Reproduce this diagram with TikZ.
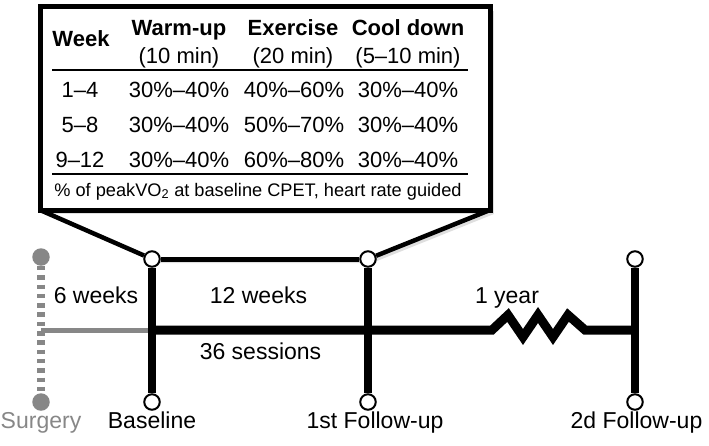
\documentclass[tikz,border=0pt]{standalone}
\usepackage{fontspec}
\setmainfont{Liberation Sans}
\usetikzlibrary{positioning}
\usetikzlibrary{calc}
\usetikzlibrary{shadows}
\definecolor{grey}{RGB}{135,135,135}
\tikzset{
    milestone/.style={circle, draw=black, fill=white, line width=2pt, inner sep=0pt, minimum size=15.5pt},
    surgdot/.style={circle, fill=grey, inner sep=0pt, minimum size=17.5pt},
    lbl/.style={font=\fontsize{23}{26}\selectfont, inner sep=0pt, text height=16.5pt, text depth=5pt},
    cell/.style={font=\fontsize{22}{25}\selectfont, inner sep=0pt, anchor=base},
    hcell/.style={font=\fontsize{22}{25}\selectfont\bfseries, inner sep=0pt, anchor=base},
    shade/.style={drop shadow={shadow xshift=4pt, shadow yshift=-4pt, opacity=0.25}},
}
\begin{document}
\begin{tikzpicture}[x=1pt, y=-1pt]
    \useasboundingbox (0,0) rectangle (709,445);

    \fill[white, shade] (40,210) -- (152,259) -- (368,259) -- (490,210) -- cycle;
    \node[draw, line width=5pt, fill=white, outer sep=0pt, minimum width=450pt, minimum height=203.5pt, shade] (box) at (265,108.25) {};

    \node[milestone] (bt) at (152,259) {};
    \node[milestone] (bb) at (152,402) {};
    \node[milestone] (f1t) at (368,259) {};
    \node[milestone] (f1b) at (368,402) {};
    \node[milestone] (f2t) at (635,259) {};
    \node[milestone] (f2b) at (635,402) {};
    \node[surgdot] (st) at (41,257) {};
    \node[surgdot] (sb) at (41,402) {};
    \coordinate (sm) at (41,330);
    \coordinate (bm) at (152,330);
    \coordinate (f1m) at (368,330);
    \coordinate (f2m) at (635,330);

    \draw[line width=4.5pt] (box.south west) -- (bt);
    \draw[line width=4.5pt] (box.south east) -- (f1t);

    \draw[line width=1.5pt] (52,70) -- (468,70);
    \draw[line width=1.5pt] (52,174) -- (468,174);
    \node[hcell] (hweek) at (81,46) {Week};
    \node[hcell] (hwarm) at (179,35) {Warm-up};
    \node[cell] (twarm) at (179,63) {(10 min)};
    \node[hcell] (hexer) at (293,35) {Exercise};
    \node[cell] (texer) at (293,63) {(20 min)};
    \node[hcell] (hcool) at (408,35) {Cool down};
    \node[cell] (tcool) at (408,63) {(5--10 min)};
    \foreach \wk/\ex [count=\i] in {1--4/40\%--60\%, 5--8/50\%--70\%, 9--12/60\%--80\%} {
        \node[cell] (wk\i) at (80,62+35*\i) {\wk};
        \node[cell] (wu\i) at (179,62+35*\i) {30\%--40\%};
        \node[cell] (ex\i) at (294,62+35*\i) {\ex};
        \node[cell] (cd\i) at (408,62+35*\i) {30\%--40\%};
    }
    \node[cell, font=\fontsize{18.2}{22}\selectfont] (note) at (258,196) {\% of peakVO\textsubscript{2} at baseline CPET, heart rate guided};

    \draw[grey, line width=8pt, dash pattern=on 4.5pt off 4.8pt] (st) -- (sb);
    \draw[grey, line width=5pt] (sm) -- (bm);
    \draw[line width=5pt] (bt) -- (f1t);
    \draw[line width=9pt] (bm) -- (f1m) -- (492,330) -- ++(16,-15) -- ++(15,22) -- ++(15,-22) -- ++(15,22) -- ++(15,-22) -- ++(17,15) -- (f2m);
    \draw[line width=8pt] (bt) -- (bb);
    \draw[line width=8pt] (f1t) -- (f1b);
    \draw[line width=8pt] (f2t) -- (f2b);

    \node[lbl, anchor=base] (six) at (96,303) {6 weeks};
    \node[lbl, anchor=base] (twelve) at (258.5,303) {12 weeks};
    \node[lbl, anchor=base] (sess) at (260.5,359) {36 sessions};
    \node[lbl, anchor=base] (year) at (507,303) {1 year};
    \node[lbl, grey, below=1pt of sb] (surg) {Surgery};
    \node[lbl, below=1.5pt of bb] (base) {Baseline};
    \node[lbl, below=1.5pt of f1b, xshift=7pt] (fu1) {1st Follow-up};
    \node[lbl, below=1.5pt of f2b, xshift=1.5pt] (fu2) {2d Follow-up};
\end{tikzpicture}
\end{document}
